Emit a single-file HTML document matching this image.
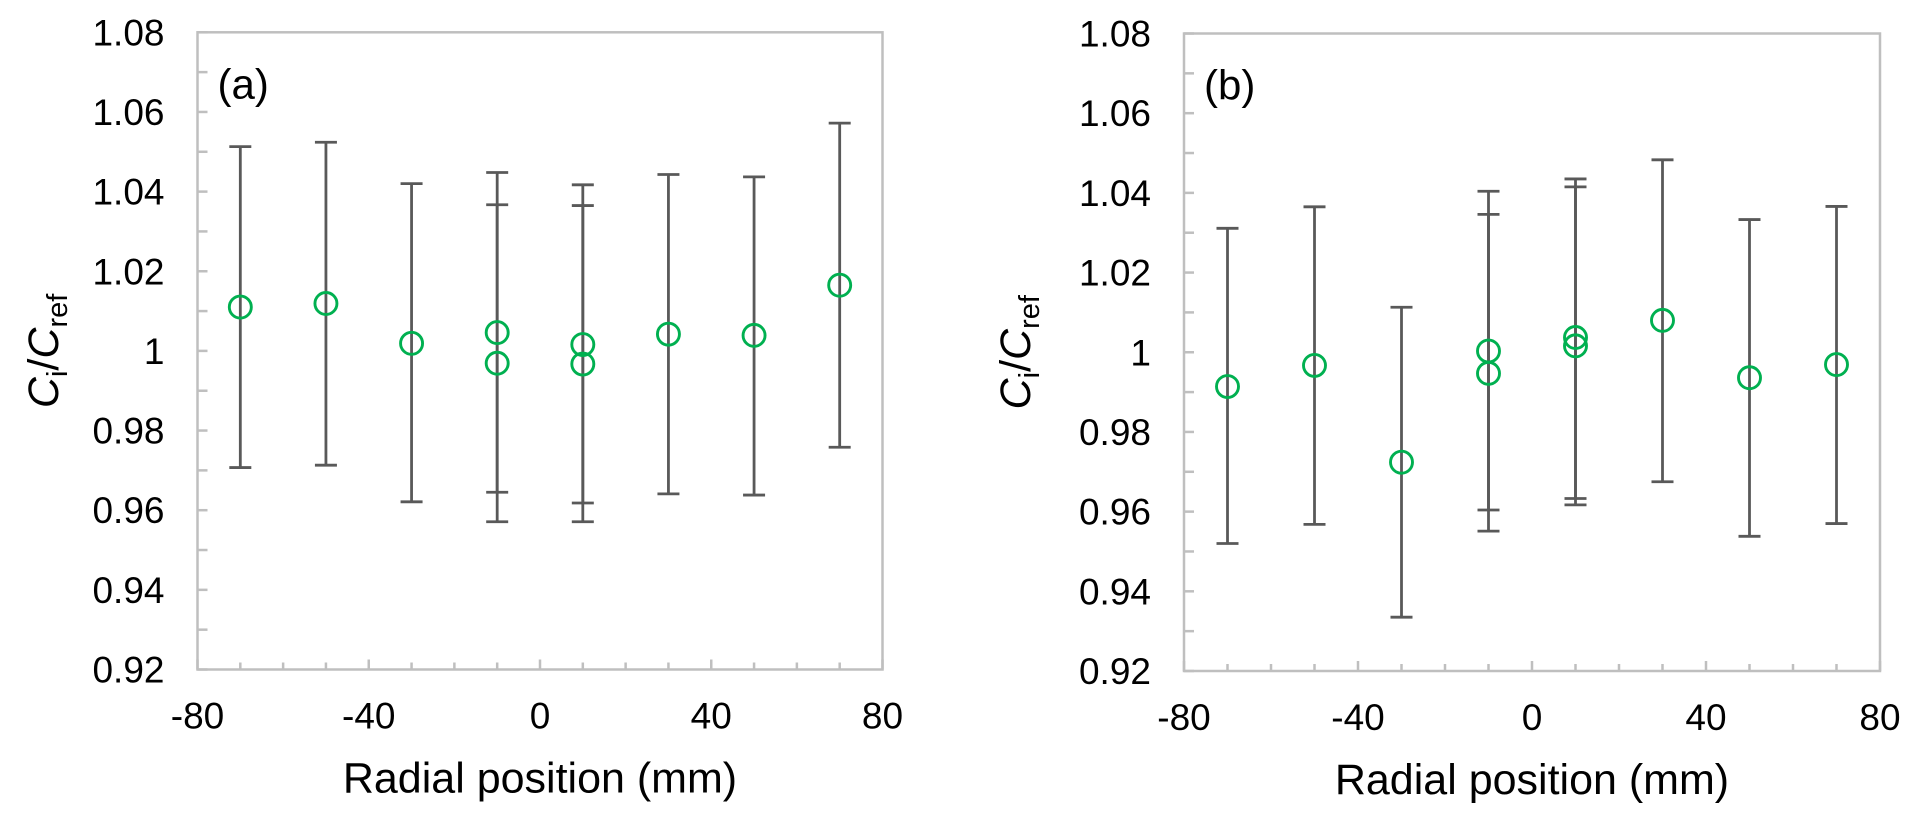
<!DOCTYPE html>
<html><head><meta charset="utf-8"><style>
html,body{margin:0;padding:0;background:#fff;}
svg{display:block;font-family:"Liberation Sans",Arial,sans-serif;}
</style></head>
<body>
<svg id="fig" width="1917" height="815" viewBox="0 0 1917 815"></svg>
<script>
const xTicks = [-80, -40, 0, 40, 80];
const yTicks = [0.92, 0.94, 0.96, 0.98, 1, 1.02, 1.04, 1.06, 1.08];
const yTickLabels = ["0.92","0.94","0.96","0.98","1","1.02","1.04","1.06","1.08"];
// Panel (a)
const aX     = [-70, -50, -30, -10, -10, 10, 10, 30, 50, 70];
const aY     = [1.0110, 1.0119, 1.0019, 1.0046, 0.9969, 1.0016, 0.9967, 1.0042, 1.0039, 1.0165];
const aUpper = [1.0513, 1.0524, 1.0420, 1.0448, 1.0367, 1.0417, 1.0365, 1.0443, 1.0437, 1.0572];
const aLower = [0.9707, 0.9713, 0.9621, 0.9645, 0.9571, 0.9618, 0.9571, 0.9641, 0.9638, 0.9758];
// Panel (b)
const bX     = [-70, -50, -30, -10, -10, 10, 10, 30, 50, 70];
const bY     = [0.9914, 0.9967, 0.9724, 1.0003, 0.9947, 1.0037, 1.0016, 1.0080, 0.9936, 0.9969];
const bUpper = [1.0311, 1.0365, 1.0113, 1.0404, 1.0346, 1.0435, 1.0415, 1.0483, 1.0333, 1.0366];
const bLower = [0.9520, 0.9568, 0.9335, 0.9604, 0.9551, 0.9633, 0.9617, 0.9675, 0.9538, 0.9570];

const NS = "http://www.w3.org/2000/svg";
const svg = document.getElementById("fig");
function mk(tag, attrs, parent){ const e=document.createElementNS(NS,tag); for(const k in attrs) e.setAttribute(k,attrs[k]); (parent||svg).appendChild(e); return e; }

function panel(id, box, xs, ys, up, lo, tag, titleX){
  const g = mk("g", {});
  
  
  const sx = v => box.l + (v + 80) / 160 * (box.r - box.l);
  const sy = v => box.t + (1.08 - v) / 0.16 * (box.b - box.t);
  const frame = mk("rect", {x:box.l, y:box.t, width:box.r-box.l, height:box.b-box.t, fill:"none", stroke:"#BFBFBF", "stroke-width":2.5}, g);
  
  
  for (let i = 0; i <= 16; i++) {
    const v = 0.92 + i * 0.01, y = sy(v);
    const t = mk("line", {x1:box.l, x2:box.l+10, y1:y, y2:y, stroke:"#BFBFBF", "stroke-width":2.5}, g);
    
    
  }
  yTicks.forEach((v, i) => {
    const t = mk("text", {x:box.l-33, y:sy(v)+13, "text-anchor":"end", "font-size":37, fill:"#000"}, g);
    t.textContent = yTickLabels[i];
    
    
  });
  for (let v = -80; v <= 80; v += 10) {
    const x = sx(v), len = (v % 40 === 0) ? 10 : 7;
    const t = mk("line", {x1:x, x2:x, y1:box.b, y2:box.b-len, stroke:"#BFBFBF", "stroke-width":2.5}, g);
    
    
  }
  xTicks.forEach(v => {
    const t = mk("text", {x:sx(v), y:box.b+59, "text-anchor":"middle", "font-size":37, fill:"#000"}, g);
    t.textContent = String(v);
    
    
  });
  const xt = mk("text", {x:(box.l+box.r)/2, y:box.b+123, "text-anchor":"middle", "font-size":43, fill:"#000"}, g);
  xt.textContent = "Radial position (mm)";
  
  
  const yt = mk("text", {transform:`translate(${titleX},${(box.t+box.b)/2}) rotate(-90)`, "text-anchor":"middle", "font-size":43, fill:"#000"}, g);
  yt.innerHTML = '<tspan font-style="italic">C</tspan><tspan font-size="29" dy="9">i</tspan><tspan dy="-9">/</tspan><tspan font-style="italic">C</tspan><tspan font-size="29" dy="9">ref</tspan>';
  
  
  const pt = mk("text", {x:box.l+20, y:box.t+66, "font-size":42, fill:"#000"}, g);
  pt.textContent = tag;
  
  
  xs.forEach((xv, i) => {
    const x = sx(xv), y1 = sy(up[i]), y2 = sy(lo[i]);
    const eb = mk("g", {stroke:"#595959", "stroke-width":2.8}, g);
    
    
    mk("line", {x1:x, x2:x, y1:y1, y2:y2}, eb);
    mk("line", {x1:x-11, x2:x+11, y1:y1, y2:y1}, eb);
    mk("line", {x1:x-11, x2:x+11, y1:y2, y2:y2}, eb);
  });
  xs.forEach((xv, i) => {
    const c = mk("circle", {cx:sx(xv), cy:sy(ys[i]), r:11, fill:"none", stroke:"#00B050", "stroke-width":2.9}, g);
    
    
  });
}
panel("a", {l:197.5, r:882.5, t:32.3, b:669.5}, aX, aY, aUpper, aLower, "(a)", 58);
panel("b", {l:1184, r:1880, t:33.5, b:671}, bX, bY, bUpper, bLower, "(b)", 1030);
</script>
</body></html>
